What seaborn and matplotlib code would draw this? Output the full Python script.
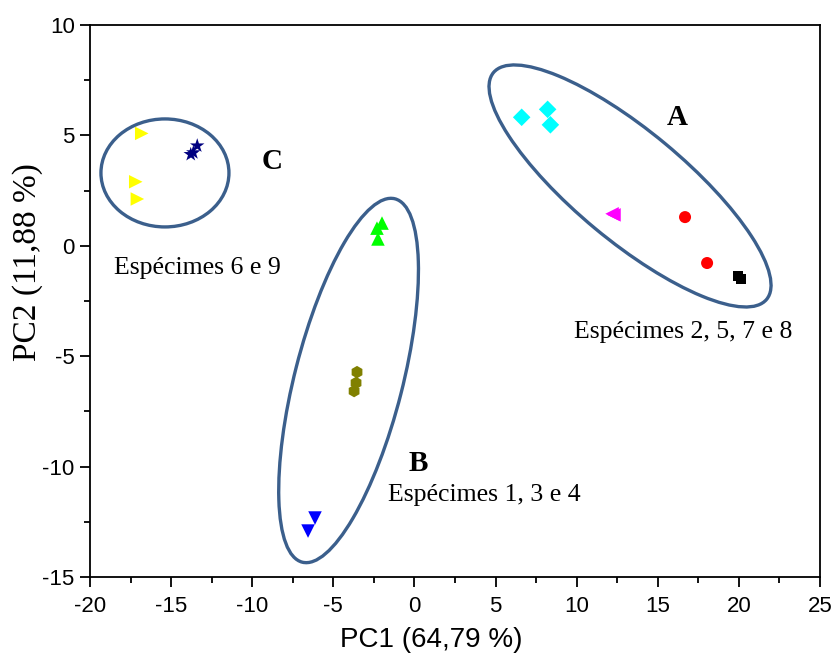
import numpy as np
import pandas as pd
import matplotlib
matplotlib.use("Agg")
import matplotlib.pyplot as plt
from matplotlib.patches import Ellipse
from matplotlib.transforms import ScaledTranslation
from matplotlib.font_manager import FontProperties
import seaborn as sns

# PCA scores, one small array per series
s1_pc1 = [19.95, 20.13]
s1_pc2 = [-1.38, -1.50]
s2_pc1 = [16.68, 18.04]
s2_pc2 = [1.30, -0.78]
s3_pc1 = [-2.00, -2.31, -2.25]
s3_pc2 = [1.03, 0.80, 0.31]
s4_pc1 = [-6.13, -6.56]
s4_pc2 = [-12.33, -12.92]
s5_pc1 = [6.61, 8.21, 8.38]
s5_pc2 = [5.82, 6.18, 5.48]
s6_pc1 = [12.18, 12.30]
s6_pc2 = [1.45, 1.40]
s7_pc1 = [-16.81, -17.18, -17.08]
s7_pc2 = [5.09, 2.90, 2.12]
s8_pc1 = [-3.54, -3.60, -3.72]
s8_pc2 = [-5.72, -6.21, -6.58]
s9_pc1 = [-13.39, -13.79, -13.63]
s9_pc2 = [4.53, 4.14, 4.22]

series_names = ["1", "2", "3", "4", "5", "6", "7", "8", "9"]
series_pc1 = [s1_pc1, s2_pc1, s3_pc1, s4_pc1, s5_pc1, s6_pc1, s7_pc1, s8_pc1, s9_pc1]
series_pc2 = [s1_pc2, s2_pc2, s3_pc2, s4_pc2, s5_pc2, s6_pc2, s7_pc2, s8_pc2, s9_pc2]

series_colors = ["#000000", "#ff0000", "#00ff00", "#0000ff", "#00ffff",
                 "#ff00ff", "#ffff00", "#808000", "#000080"]
series_markers = ["s", "o", "^", "v", "D", "<", ">", "h", "*"]
series_sizes = [55, 75, 95, 95, 80, 95, 95, 80, 120]

# Cluster outlines: centre (data units), axes (inches), rotation (degrees)
group_labels = ["A", "B", "C"]
group_centers = [(13.29, 2.71), (-4.06, -6.10), (-15.38, 3.30)]
group_axes = [(3.55, 1.10), (1.08, 3.75), (1.28, 1.08)]
group_angles = [-39.7, -14.3, 0.0]
group_label_pos = [(16.19, 5.79), (0.22, -9.84), (-8.78, 3.80)]
group_text = ["Espécimes 2, 5, 7 e 8", "Espécimes 1, 3 e 4", "Espécimes 6 e 9"]
group_text_pos = [(16.55, -3.90), (4.29, -11.29), (-13.40, -1.00)]

x_label = "PC1 (64,79 %)"
y_label = "PC2 (11,88 %)"

rows = []
for name, xs, ys in zip(series_names, series_pc1, series_pc2):
    for x, y in zip(xs, ys):
        rows.append({"PC1": x, "PC2": y, "serie": name})
df = pd.DataFrame(rows)

sns.set_style("ticks")
plt.rcParams["font.family"] = ["Liberation Sans", "DejaVu Sans"]
plt.rcParams["axes.unicode_minus"] = False
plt.rcParams["text.color"] = "black"
plt.rcParams["axes.labelcolor"] = "black"
plt.rcParams["xtick.color"] = "black"
plt.rcParams["ytick.color"] = "black"

fig = plt.figure(figsize=(8.33, 6.55), dpi=100)
ax = fig.add_axes([90 / 833, 1 - 577 / 655, 730 / 833, 552 / 655])

ax.set_xlim(-20, 25)
ax.set_ylim(-15, 10)

outline = "#3b5f8c"
for (cx, cy), (w, h), ang in zip(group_centers, group_axes, group_angles):
    tr = fig.dpi_scale_trans + ScaledTranslation(cx, cy, ax.transData)
    ax.add_patch(Ellipse((0, 0), w, h, angle=ang, transform=tr,
                         fill=False, edgecolor=outline, linewidth=2.4, zorder=1))

sns.scatterplot(data=df, x="PC1", y="PC2", hue="serie", style="serie", size="serie",
                palette=dict(zip(series_names, series_colors)),
                markers=dict(zip(series_names, series_markers)),
                sizes=dict(zip(series_names, series_sizes)),
                linewidth=0, legend=False, ax=ax, zorder=3)

for lab, (x, y) in zip(group_labels, group_label_pos):
    ax.text(x, y, lab, fontsize=21, fontweight="bold", family="Liberation Serif",
            ha="center", va="center", color="black")
for txt, (x, y) in zip(group_text, group_text_pos):
    ax.text(x, y, txt, fontsize=18.5, family="Liberation Serif",
            ha="center", va="center", color="black")

ax.set_xticks(np.arange(-20, 26, 5))
ax.set_yticks(np.arange(-15, 11, 5))
ax.set_xticks(np.arange(-17.5, 25, 5), minor=True)
ax.set_yticks(np.arange(-12.5, 10, 5), minor=True)
ax.tick_params(which="major", direction="out", length=7, width=1.3, labelsize=16,
               top=False, right=False, colors="black")
ax.tick_params(axis="x", which="major", pad=7)
ax.tick_params(axis="y", which="major", pad=4)
ax.tick_params(which="minor", direction="out", length=4, width=1.3,
               top=False, right=False)
for sp in ax.spines.values():
    sp.set_visible(True)
    sp.set_linewidth(1.3)
    sp.set_color("black")

ax.set_xlabel(x_label, fontsize=20, color="black")
ax.xaxis.set_label_coords((431 - 90) / 730, -(640 - 577) / 552)
ax.xaxis.label.set_va("center")
ax.set_ylabel(y_label, fontproperties=FontProperties(family="Liberation Serif", size=24),
              color="black")
ax.yaxis.set_label_coords(-(90 - 28) / 730, (577 - 262) / 552)
ax.yaxis.label.set_va("center")

fig.savefig("out.png", dpi=100)
